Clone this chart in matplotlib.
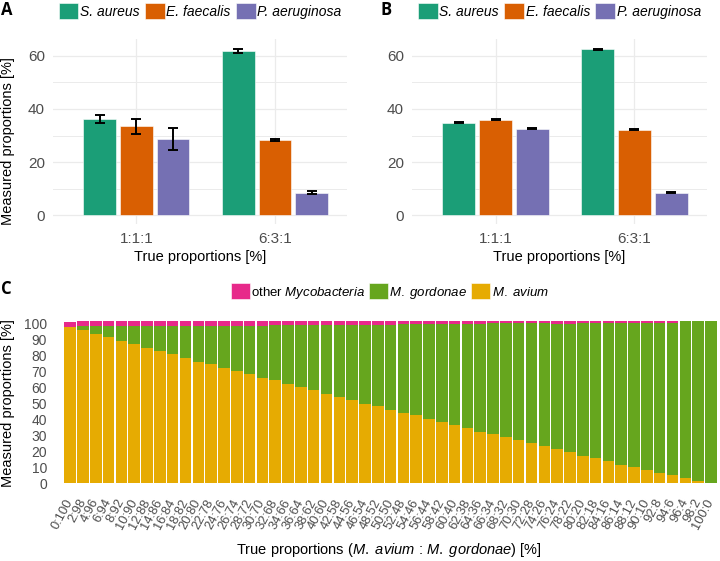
import numpy as np
import matplotlib
matplotlib.use('Agg')
import matplotlib.pyplot as plt
from matplotlib.patches import Patch
from matplotlib.ticker import MultipleLocator

plt.rcParams['font.family'] = ['Liberation Sans', 'DejaVu Sans']
plt.rcParams['mathtext.fontset'] = 'custom'
plt.rcParams['mathtext.rm'] = 'Liberation Sans'
plt.rcParams['mathtext.it'] = 'Liberation Sans:italic'

# --- data, panels A and B ---
groups = ['1:1:1', '6:3:1']
species = ['S. aureus', 'E. faecalis', 'P. aeruginosa']
species_colors = ['#1B9E77', '#D95F02', '#7570B3']

a_saureus = [36.2, 61.8]
a_efaecalis = [33.4, 28.3]
a_paeruginosa = [28.7, 8.5]
a_saureus_err = [1.4, 0.6]
a_efaecalis_err = [2.9, 0.2]
a_paeruginosa_err = [4.2, 0.5]

b_saureus = [34.8, 62.5]
b_efaecalis = [35.9, 32.1]
b_paeruginosa = [32.5, 8.5]
b_saureus_err = [0.2, 0.2]
b_efaecalis_err = [0.2, 0.2]
b_paeruginosa_err = [0.2, 0.2]

# --- data, panel C ---
ratios = ['0:100', '2:98', '4:96', '6:94', '8:92', '10:90', '12:88', '14:86',
          '16:84', '18:82', '20:80', '22:78', '24:76', '26:74', '28:72', '30:70',
          '32:68', '34:66', '36:64', '38:62', '40:60', '42:58', '44:56', '46:54',
          '48:52', '50:50', '52:48', '54:46', '56:44', '58:42', '60:40', '62:38',
          '64:36', '66:34', '68:32', '70:30', '72:28', '74:26', '76:24', '78:22',
          '80:20', '82:18', '84:16', '86:14', '88:12', '90:10', '92:8', '94:6',
          '96:4', '98:2', '100:0']
m_avium = [97.5, 95.8, 93.3, 91.3, 89.0, 86.9, 84.6, 82.7, 80.6, 78.3,
           76.0, 74.6, 72.3, 70.0, 68.5, 66.0, 64.6, 62.3, 60.0, 58.3,
           56.0, 54.2, 52.1, 49.8, 48.1, 45.8, 44.0, 42.5, 40.2, 38.5,
           36.3, 34.6, 32.3, 30.8, 29.0, 26.9, 25.0, 23.4, 21.3, 19.6,
           17.3, 15.6, 14.0, 11.7, 10.2, 8.3, 6.7, 5.0, 3.3, 1.7, 0.0]
m_gordonae = [0.3, 2.5, 5.0, 7.0, 9.3, 11.4, 13.7, 15.6, 17.7, 20.0,
              22.3, 23.9, 26.2, 28.5, 30.0, 32.5, 34.3, 36.6, 38.9, 40.6,
              42.9, 44.7, 46.8, 49.1, 50.8, 53.1, 55.6, 57.1, 59.4, 61.1,
              63.3, 65.0, 67.3, 69.1, 70.9, 73.0, 74.9, 76.5, 78.5, 80.2,
              82.9, 84.6, 86.2, 88.5, 90.0, 91.9, 93.5, 95.2, 97.9, 99.5, 101.2]
other_myco = [3.3, 2.9, 2.9, 2.9, 2.9, 2.9, 2.9, 2.9, 2.9, 2.9,
              2.9, 2.7, 2.7, 2.7, 2.7, 2.7, 2.3, 2.3, 2.3, 2.3,
              2.3, 2.3, 2.3, 2.3, 2.3, 2.3, 1.6, 1.6, 1.6, 1.6,
              1.6, 1.6, 1.6, 1.3, 1.3, 1.3, 1.3, 1.3, 1.4, 1.4,
              1.0, 1.0, 1.0, 1.0, 1.0, 1.0, 1.0, 1.0, 0.0, 0.0, 0.0]
myco_colors = {'avium': '#E6AB02', 'gordonae': '#66A61E', 'other': '#E7298A'}

W, H = 720, 561
fig = plt.figure(figsize=(W / 100, H / 100), dpi=100)


def add_ax(left, top, right, bottom):
    return fig.add_axes([left / W, 1 - bottom / H, (right - left) / W, (bottom - top) / H])


def bar_panel(ax, means, errs):
    x = np.arange(len(groups))
    for i, (m, e, c) in enumerate(zip(means, errs, species_colors)):
        pos = x + (i - 1) * 0.265
        ax.bar(pos, m, 0.236, color=c, edgecolor='white', linewidth=0.4, zorder=2)
        ax.errorbar(pos, m, yerr=e, fmt='none', ecolor='black', elinewidth=1.4,
                    capsize=3.7, capthick=1.4, zorder=3)
    ax.set_xlim(-0.6, 1.52)
    ax.set_ylim(-3.1, 66.3)
    ax.set_xticks(x)
    ax.set_xticklabels(groups)
    ax.yaxis.set_major_locator(MultipleLocator(20))
    ax.yaxis.set_minor_locator(MultipleLocator(10))
    ax.set_axisbelow(True)
    ax.grid(which='major', color='#EBEBEB', linewidth=0.9)
    ax.grid(which='minor', axis='y', color='#EBEBEB', linewidth=0.7)
    ax.tick_params(which='both', length=0, labelsize=11, colors='#4D4D4D', pad=6)
    for s in ax.spines.values():
        s.set_visible(False)
    handles = [Patch(facecolor=c, edgecolor='white', linewidth=0.4, label=s)
               for s, c in zip(species, species_colors)]
    ax.legend(handles=handles, loc='center', bbox_to_anchor=(0.5, 1.152), ncol=3,
              frameon=False, prop={'style': 'italic', 'size': 10},
              handlelength=1.4, handleheight=1.4, handletextpad=0.12,
              columnspacing=0.4, borderaxespad=0, borderpad=0)


ax_a = add_ax(53.3, 39, 347, 223.5)
bar_panel(ax_a, [a_saureus, a_efaecalis, a_paeruginosa],
          [a_saureus_err, a_efaecalis_err, a_paeruginosa_err])
ax_b = add_ax(412.3, 39, 706.7, 223.5)
bar_panel(ax_b, [b_saureus, b_efaecalis, b_paeruginosa],
          [b_saureus_err, b_efaecalis_err, b_paeruginosa_err])

fig.text(8 / W, 1 - 141 / H, 'Measured proportions [%]', rotation=90,
         ha='center', va='center', fontsize=10.5)
fig.text(200 / W, 1 - 257 / H, 'True proportions [%]', ha='center', va='center', fontsize=10.5)
fig.text(559.5 / W, 1 - 257 / H, 'True proportions [%]', ha='center', va='center', fontsize=10.5)

# panel C
ax_c = add_ax(62.5, 313.2, 718.6, 491.4)
xc = np.arange(len(ratios))
bottom2 = np.array(m_avium) + np.array(m_gordonae)
ax_c.bar(xc, m_avium, 0.9, color=myco_colors['avium'], zorder=2)
ax_c.bar(xc, m_gordonae, 0.9, bottom=m_avium, color=myco_colors['gordonae'], zorder=2)
ax_c.bar(xc, other_myco, 0.9, bottom=bottom2, color=myco_colors['other'], zorder=2)
ax_c.set_xlim(-0.6, len(ratios) - 0.4)
ax_c.set_ylim(-5.06, 106.3)
ax_c.set_yticks(np.arange(0, 101, 10))
ax_c.set_xticks(xc)
ax_c.set_xticklabels(ratios, rotation=62, ha='right', va='center', rotation_mode='anchor')
ax_c.tick_params(axis='y', length=0, labelsize=10, colors='#4D4D4D', pad=11)
ax_c.tick_params(axis='x', length=0, labelsize=9.3, colors='#4D4D4D', pad=6)
for s in ax_c.spines.values():
    s.set_visible(False)

c_handles = [Patch(facecolor=myco_colors['other'], edgecolor='white', linewidth=0.4,
                   label=r'other $\mathit{Mycobacteria}$'),
             Patch(facecolor=myco_colors['gordonae'], edgecolor='white', linewidth=0.4,
                   label=r'$\mathit{M.\ gordonae}$'),
             Patch(facecolor=myco_colors['avium'], edgecolor='white', linewidth=0.4,
                   label=r'$\mathit{M.\ avium}$')]
fig.legend(handles=c_handles, loc='center', bbox_to_anchor=(390 / W, 1 - 292 / H), ncol=3,
           frameon=False, fontsize=9.5, handlelength=1.4, handleheight=1.4,
           handletextpad=0.12, columnspacing=0.3, borderaxespad=0, borderpad=0)

fig.text(8 / W, 1 - 403 / H, 'Measured proportions [%]', rotation=90,
         ha='center', va='center', fontsize=10.5)
fig.text(389 / W, 1 - 550 / H,
         r'True proportions ($\mathit{M.\ avium}$ : $\mathit{M.\ gordonae}$) [%]',
         ha='center', va='center', fontsize=10.5)

# panel letters
for lbl, x, y in [('A', 1, 10), ('B', 380, 10), ('C', 1, 289)]:
    fig.text(x / W, 1 - y / H, lbl, fontsize=12, fontweight='bold',
             family='Open Sans', ha='left', va='center')

fig.savefig('out.png', dpi=100, facecolor='white')
